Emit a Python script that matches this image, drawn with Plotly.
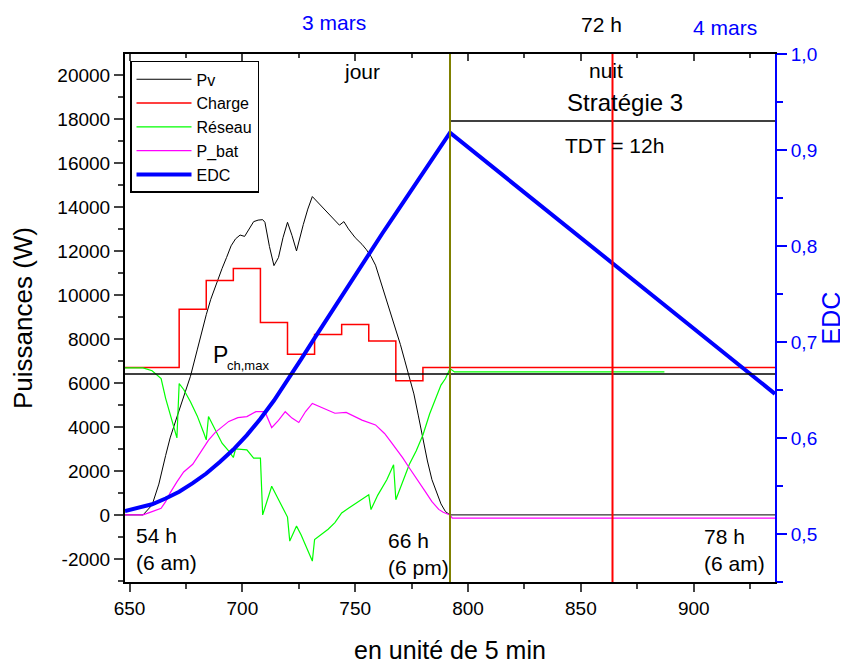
import plotly.graph_objects as go

# ---------------- data (x in units of 5 min) ----------------
PV_X = [648, 656, 660, 663, 666, 668, 671, 674, 677, 680, 682, 684, 686, 688, 691, 693, 695, 697, 699, 701,
        703, 705, 707, 709, 710, 712, 714, 716, 718, 720, 722, 724, 727, 729, 731, 735, 739, 743, 745, 747,
        750, 753, 755, 757, 759, 761, 764, 766, 768, 770, 772, 774, 776, 778, 780, 782, 784, 786, 788, 790,
        792, 936]
PV_W = [0, 0, 450, 1400, 2700, 3500, 4450, 5400, 6300, 7500, 8350, 9100, 9800, 10400, 11200, 11700, 12230, 12550, 12720, 12660,
        13000, 13330, 13400, 13420, 13300, 12200, 11330, 11700, 12600, 13300, 12700, 12000, 13200, 13900, 14470, 14030, 13600, 13170, 13330, 13000,
        12600, 12300, 12050, 11750, 11350, 10700, 9700, 9100, 8450, 7750, 7000, 6300, 5500, 4500, 3400, 2450, 1600, 1000, 500, 150,
        0, 0]

CHARGE_X = [648, 672, 684, 696, 708, 720, 732, 744, 756, 768, 780, 936]
CHARGE_W = [6700, 9350, 10650, 11200, 8750, 7300, 8200, 8650, 7900, 6100, 6700, 6700]

RESEAU_X = [648, 656, 660, 664, 666, 668, 671, 672, 674, 677, 680, 683, 684, 685, 688, 691, 694, 696, 697, 700,
            702, 705, 708, 709, 711, 713, 716, 719, 720, 721, 724, 726, 729, 731, 732, 735, 738, 741, 744, 747,
            750, 753, 756, 757, 760, 764, 767, 768, 771, 774, 777, 780, 783, 786, 788, 790, 792, 794, 887]
RESEAU_W = [6680, 6680, 6550, 6200, 5300, 4600, 3500, 5970, 5700, 5140, 4500, 3700, 3410, 4470, 3850, 3260, 2900, 2610, 3000, 2980,
            2960, 2580, 2580, 0, 700, 1300, 700, 150, -100, -1190, -510, -900, -1600, -2100, -1120, -900, -650, -350, 90, 300,
            500, 700, 920, 240, 900, 1600, 2280, 690, 1500, 2300, 2900, 3630, 4600, 5400, 5900, 6200, 6650, 6500, 6500]

PBAT_X = [648, 656, 660, 664, 666, 668, 671, 674, 678, 682, 685, 688, 691, 694, 698, 702, 706, 710, 713, 716,
          719, 722, 725, 728, 731, 736, 741, 746, 750, 753, 759, 763, 766, 768, 771, 774, 777, 781, 784, 787,
          789, 792, 793, 936]
PBAT_W = [0, 0, 150, 300, 600, 1000, 1500, 1950, 2300, 2900, 3400, 3750, 4010, 4250, 4420, 4470, 4690, 4690, 3970, 4300,
          4690, 4400, 4200, 4700, 5070, 4850, 4620, 4660, 4450, 4310, 4090, 3700, 3300, 3030, 2600, 2130, 1700, 1070, 600, 250,
          120, 0, -150, -150]

EDC_X = [648, 654, 660, 666, 672, 678, 684, 690, 696, 702, 708, 714, 720, 726, 732, 738, 744, 750, 756, 762,
         768, 774, 780, 786, 792, 936]
EDC_V = [0.524, 0.527, 0.531, 0.537, 0.544, 0.553, 0.563, 0.575, 0.588, 0.603, 0.620, 0.639, 0.660, 0.682, 0.704, 0.726, 0.748, 0.770, 0.792, 0.813,
         0.834, 0.855, 0.876, 0.897, 0.918, 0.646]

P_CH_MAX = 6400          # W, horizontal reference line
STRATEGY_LINE = 17900    # W, line under "Stratégie 3"
T_SUNSET = 792           # 66 h
T_MIDNIGHT = 864         # 72 h
X_RANGE = [648, 936]
Y_RANGE = [-3050, 20950]
EDC_RANGE = [0.45, 1.0]

Y_TICKS = [-2000, 0, 2000, 4000, 6000, 8000, 10000, 12000, 14000, 16000, 18000, 20000]
Y_TICK_TEXT = ["-2000", "0", "2000", "4000", "6000", "8000", "10000", "12000", "14000", "16000", "18000", "20000"]
X_TICKS = [650, 700, 750, 800, 850, 900]

FONT = "Liberation Sans, Arial, sans-serif"
BLUE = "#0000FF"

fig = go.Figure()
fig.add_trace(go.Scatter(x=PV_X, y=PV_W, name="Pv", mode="lines", line=dict(color="black", width=1)))
fig.add_trace(go.Scatter(x=CHARGE_X, y=CHARGE_W, name="Charge", mode="lines",
                         line=dict(color="#FF0000", width=1.5, shape="hv")))
fig.add_trace(go.Scatter(x=RESEAU_X, y=RESEAU_W, name="Réseau", mode="lines", line=dict(color="#00FF00", width=1.2)))
fig.add_trace(go.Scatter(x=PBAT_X, y=PBAT_W, name="P_bat", mode="lines", line=dict(color="#FF00FF", width=1.2)))
fig.add_trace(go.Scatter(x=EDC_X, y=EDC_V, name="EDC", mode="lines", yaxis="y2",
                         line=dict(color=BLUE, width=4)))
# dummy trace to draw the top axis (ticks pointing inside)
fig.add_trace(go.Scatter(x=[X_RANGE[0]], y=[None], xaxis="x2", showlegend=False, hoverinfo="skip"))

# the page body adds an 8 px margin, so the figure is 8 px smaller and margins are shifted
fig.update_layout(
    width=840, height=656,
    margin=dict(l=117, r=73, t=46, b=82),
    paper_bgcolor="white", plot_bgcolor="white",
    font=dict(family=FONT, size=19, color="black"),
    separators=",.",
    showlegend=True,
    legend=dict(x=0.0077, y=0.987, xanchor="left", yanchor="top",
                bordercolor="black", borderwidth=1.5, bgcolor="white",
                font=dict(size=16), tracegroupgap=0, itemwidth=55),
    xaxis=dict(range=X_RANGE, tickmode="array", tickvals=X_TICKS, ticks="outside", ticklen=8, tickwidth=2,
               showline=True, linecolor="black", linewidth=2, showgrid=False, zeroline=False, automargin=False,
               minor=dict(dtick=25, tick0=650, ticks="outside", ticklen=5, tickwidth=1.5),
               title=dict(text="en unité de 5 min", font=dict(size=25), standoff=26)),
    xaxis2=dict(range=X_RANGE, overlaying="x", side="top", matches="x", ticks="inside", ticklen=7, tickwidth=2,
                tickmode="array", tickvals=X_TICKS, showticklabels=False, automargin=False,
                showline=True, linecolor="black", linewidth=2, showgrid=False, zeroline=False,
                minor=dict(dtick=25, tick0=650, ticks="inside", ticklen=4, tickwidth=1.5)),
    yaxis=dict(range=Y_RANGE, tickmode="array", tickvals=Y_TICKS, ticktext=Y_TICK_TEXT,
               ticks="outside", ticklen=9, tickwidth=2, automargin=False,
               showline=True, linecolor="black", linewidth=2, showgrid=False, zeroline=False,
               minor=dict(dtick=1000, tick0=0, ticks="outside", ticklen=5, tickwidth=1.5),
               title=dict(text="Puissances (W)", font=dict(size=26), standoff=18)),
    yaxis2=dict(range=EDC_RANGE, overlaying="y", side="right", tickmode="linear", tick0=0.5, dtick=0.1,
                tickformat=".1f", ticks="outside", ticklen=10, tickwidth=2, tickcolor=BLUE, automargin=False,
                tickfont=dict(color=BLUE, size=19),
                showline=True, linecolor=BLUE, linewidth=2, showgrid=False, zeroline=False,
                minor=dict(dtick=0.05, ticks="outside", ticklen=6, tickwidth=1.5, tickcolor=BLUE),
                title=dict(text="EDC", font=dict(size=25, color=BLUE), standoff=3)),
)

# reference lines
fig.add_shape(type="line", xref="x", yref="y", x0=X_RANGE[0], x1=X_RANGE[1], y0=P_CH_MAX, y1=P_CH_MAX,
              line=dict(color="black", width=1.5), layer="above")
fig.add_shape(type="line", xref="x", yref="y", x0=T_SUNSET, x1=X_RANGE[1], y0=STRATEGY_LINE, y1=STRATEGY_LINE,
              line=dict(color="black", width=1.5), layer="above")
fig.add_shape(type="line", xref="x", yref="paper", x0=T_SUNSET, x1=T_SUNSET, y0=0, y1=1,
              line=dict(color="#808000", width=2), layer="above")
fig.add_shape(type="line", xref="x", yref="paper", x0=T_MIDNIGHT, x1=T_MIDNIGHT, y0=0, y1=1,
              line=dict(color="#FF0000", width=2), layer="above")

def ann(text, x, y, yref="paper", size=21, color="black", xanchor="center", align="center"):
    fig.add_annotation(text=text, x=x, y=y, xref="x", yref=yref, showarrow=False,
                       font=dict(size=size, color=color, family=FONT),
                       xanchor=xanchor, yanchor="middle", align=align)

ann("3 mars", 740.7, 1.0606, color=BLUE)
ann("72 h", 859, 1.0568)
ann("4 mars", 914, 1.051, color=BLUE)
ann("jour", 753, 0.966)
ann("nuit", 861, 0.968)
ann("Stratégie 3", 869.5, 0.909, size=24)
ann("TDT = 12h", 865, 0.826)
ann("54 h<br>(6 am)", 652.2, 0.0625, xanchor="left", align="left")
ann("66 h<br>(6 pm)", 763.7, 0.053, xanchor="left", align="left")
ann("78 h<br>(6 am)", 932.3, 0.0606, xanchor="right", align="left")
ann("P", 690.3, 7285, yref="y", size=23)
ann("ch,max", 702.7, 6790, yref="y", size=13)

fig.write_html("out.html")
